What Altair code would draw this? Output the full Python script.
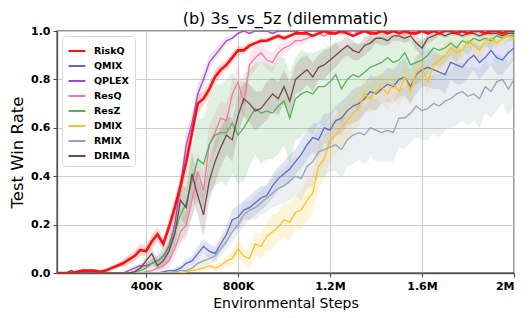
import altair as alt
import numpy as np
import pandas as pd

# ---------------- data ----------------
steps = list(range(0, 2000001, 25000))  # 81 sample steps

methods = ["RiskQ", "QMIX", "QPLEX", "ResQ", "ResZ", "DMIX", "RMIX", "DRIMA"]
colors = ["#ff1010", "#5d6cc4", "#a448c8", "#f07aa4", "#55b158", "#fbc12a", "#93a5b2", "#74474a"]

riskq = [0, 0, 0, 0, 0.005, 0.01, 0.01, 0.01, 0.005, 0.01,
         0.02, 0.03, 0.04, 0.055, 0.07, 0.095, 0.09, 0.13, 0.16, 0.12,
         0.19, 0.27, 0.36, 0.46, 0.58, 0.70, 0.72, 0.76, 0.81, 0.84,
         0.86, 0.89, 0.92, 0.92, 0.94, 0.95, 0.96, 0.96, 0.97, 0.98,
         0.97, 0.98, 0.99, 0.99, 0.99, 0.98, 0.99, 1.0, 0.99, 0.99,
         1.0, 0.99, 0.98, 0.99, 1.0, 0.99, 0.99, 1.0, 0.99, 1.0,
         0.99, 1.0, 0.99, 0.99, 1.0, 0.99, 1.0, 0.99, 1.0, 1.0,
         0.99, 1.0, 0.99, 1.0, 1.0, 0.99, 1.0, 1.0, 0.99, 1.0, 1.0]
qmix = [0, 0, 0, 0, 0, 0, 0, 0, 0, 0,
        0, 0, 0, 0, 0, 0, 0, 0, 0, 0.005,
        0.01, 0.01, 0.02, 0.04, 0.05, 0.08, 0.11, 0.09, 0.08, 0.12,
        0.16, 0.22, 0.23, 0.26, 0.27, 0.29, 0.31, 0.32, 0.36, 0.39,
        0.41, 0.43, 0.46, 0.49, 0.53, 0.56, 0.55, 0.60, 0.59, 0.63,
        0.64, 0.67, 0.69, 0.70, 0.72, 0.75, 0.74, 0.76, 0.78, 0.77,
        0.80, 0.81, 0.77, 0.82, 0.84, 0.85, 0.84, 0.83, 0.82, 0.87,
        0.86, 0.85, 0.88, 0.90, 0.87, 0.89, 0.92, 0.89, 0.88, 0.91, 0.93]
qplex = [0, 0, 0, 0, 0, 0, 0, 0, 0, 0,
         0, 0, 0, 0.01, 0.02, 0.03, 0.03, 0.04, 0.05, 0.07,
         0.11, 0.20, 0.36, 0.53, 0.62, 0.74, 0.80, 0.87, 0.90, 0.93,
         0.96, 0.97, 0.99, 1.0, 0.99, 1.0, 1.0, 1.0, 0.99, 1.0,
         1.0, 1.0, 1.0, 0.99, 1.0, 1.0, 1.0, 1.0, 1.0, 0.99,
         1.0, 1.0, 1.0, 1.0, 1.0, 1.0, 0.99, 1.0, 1.0, 1.0,
         1.0, 1.0, 1.0, 1.0, 1.0, 1.0, 1.0, 1.0, 1.0, 1.0,
         1.0, 1.0, 1.0, 1.0, 1.0, 1.0, 1.0, 1.0, 1.0, 1.0, 1.0]
resq = [0, 0, 0, 0, 0, 0, 0, 0, 0, 0,
        0, 0, 0, 0, 0, 0, 0.005, 0.01, 0.02, 0.03,
        0.05, 0.10, 0.17, 0.20, 0.30, 0.42, 0.34, 0.53, 0.58, 0.64,
        0.63, 0.74, 0.79, 0.70, 0.86, 0.89, 0.91, 0.88, 0.87, 0.91,
        0.93, 0.94, 0.96, 0.96, 0.97, 0.98, 0.99, 0.98, 0.99, 1.0,
        0.99, 0.99, 1.0, 0.99, 1.0, 0.99, 1.0, 1.0, 0.99, 1.0,
        1.0, 0.99, 1.0, 1.0, 1.0, 0.99, 1.0, 1.0, 1.0, 1.0,
        0.99, 1.0, 1.0, 1.0, 1.0, 1.0, 0.99, 1.0, 1.0, 1.0, 1.0]
resz = [0, 0, 0, 0, 0, 0, 0, 0, 0, 0,
        0, 0, 0, 0, 0.005, 0.01, 0.02, 0.04, 0.05, 0.07,
        0.10, 0.17, 0.24, 0.29, 0.38, 0.47, 0.45, 0.53, 0.57, 0.58,
        0.58, 0.62, 0.57, 0.60, 0.64, 0.68, 0.66, 0.67, 0.66, 0.69,
        0.71, 0.64, 0.72, 0.74, 0.75, 0.74, 0.77, 0.77, 0.79, 0.82,
        0.76, 0.80, 0.82, 0.81, 0.83, 0.85, 0.86, 0.87, 0.89, 0.87,
        0.88, 0.91, 0.86, 0.87, 0.88, 0.90, 0.93, 0.92, 0.93, 0.95,
        0.93, 0.96, 0.95, 0.97, 0.96, 0.97, 0.96, 0.98, 0.97, 0.98, 0.98]
dmix = [0, 0, 0, 0, 0, 0, 0, 0, 0, 0,
        0, 0, 0, 0, 0, 0, 0, 0, 0, 0,
        0, 0, 0, 0.005, 0.01, 0.015, 0.02, 0.03, 0.02, 0.03,
        0.05, 0.06, 0.10, 0.07, 0.06, 0.12, 0.11, 0.15, 0.17, 0.19,
        0.22, 0.21, 0.25, 0.26, 0.30, 0.33, 0.44, 0.47, 0.55, 0.57,
        0.60, 0.63, 0.66, 0.68, 0.74, 0.72, 0.75, 0.77, 0.74, 0.78,
        0.75, 0.81, 0.75, 0.83, 0.85, 0.79, 0.86, 0.88, 0.90, 0.93,
        0.91, 0.92, 0.96, 0.94, 0.92, 0.96, 0.97, 0.95, 0.97, 0.98, 0.97]
rmix = [0, 0, 0, 0, 0, 0, 0, 0, 0, 0,
        0, 0, 0, 0, 0, 0, 0, 0, 0, 0,
        0, 0.005, 0.01, 0.01, 0.02, 0.04, 0.05, 0.06, 0.07, 0.10,
        0.13, 0.17, 0.20, 0.24, 0.26, 0.27, 0.29, 0.31, 0.33, 0.35,
        0.36, 0.38, 0.40, 0.39, 0.44, 0.46, 0.50, 0.51, 0.52, 0.53,
        0.51, 0.55, 0.57, 0.58, 0.57, 0.60, 0.59, 0.58, 0.59, 0.58,
        0.64, 0.64, 0.66, 0.69, 0.67, 0.68, 0.70, 0.69, 0.71, 0.72,
        0.74, 0.75, 0.73, 0.74, 0.72, 0.77, 0.75, 0.79, 0.80, 0.76, 0.80]
drima = [0, 0, 0, 0.01, 0, 0, 0, 0, 0, 0,
         0, 0, 0, 0, 0.005, 0.02, 0.05, 0.08, 0.03, 0.05,
         0.09, 0.16, 0.30, 0.27, 0.41, 0.32, 0.24, 0.38, 0.46, 0.52,
         0.57, 0.55, 0.65, 0.72, 0.70, 0.67, 0.68, 0.71, 0.74, 0.72,
         0.77, 0.71, 0.80, 0.82, 0.84, 0.81, 0.85, 0.86, 0.88, 0.90,
         0.92, 0.94, 0.92, 0.91, 0.94, 0.95, 0.97, 0.97, 0.96, 0.98,
         0.98, 0.97, 0.98, 0.95, 0.93, 0.97, 0.98, 0.99, 0.98, 0.99,
         0.99, 0.98, 0.99, 0.99, 0.98, 0.99, 0.99, 0.99, 0.98, 0.99, 0.99]

# spread (half width of shaded band)
riskq_sd = [0, 0, 0, 0, 0.005, 0.005, 0.005, 0.005, 0.005, 0.01,
            0.01, 0.01, 0.015, 0.02, 0.02, 0.025, 0.02, 0.03, 0.03, 0.025,
            0.03, 0.04, 0.04, 0.05, 0.04, 0.04, 0.03, 0.03, 0.03, 0.025,
            0.02, 0.02, 0.02, 0.015, 0.015, 0.01, 0.01, 0.01, 0.01, 0.01,
            0.01, 0.01, 0.005, 0.005, 0.005, 0.005, 0.005, 0.005, 0.005, 0.005,
            0.005, 0.005, 0.005, 0.005, 0.005, 0.005, 0.005, 0.005, 0.005, 0.005,
            0.005, 0.005, 0.005, 0.005, 0.005, 0.005, 0.005, 0.005, 0.005, 0.005,
            0.005, 0.005, 0.005, 0.005, 0.005, 0.005, 0.005, 0.005, 0.005, 0.005, 0.005]
qmix_sd = [0, 0, 0, 0, 0, 0, 0, 0, 0, 0,
           0, 0, 0, 0, 0, 0, 0, 0, 0, 0.005,
           0.005, 0.01, 0.01, 0.02, 0.02, 0.03, 0.03, 0.03, 0.03, 0.03,
           0.04, 0.04, 0.05, 0.04, 0.05, 0.05, 0.05, 0.04, 0.05, 0.05,
           0.05, 0.06, 0.05, 0.06, 0.06, 0.06, 0.07, 0.06, 0.07, 0.06,
           0.07, 0.06, 0.07, 0.07, 0.06, 0.07, 0.07, 0.06, 0.07, 0.07,
           0.07, 0.08, 0.07, 0.08, 0.07, 0.08, 0.08, 0.07, 0.08, 0.07,
           0.08, 0.07, 0.07, 0.06, 0.07, 0.06, 0.06, 0.07, 0.06, 0.06, 0.05]
qplex_sd = [0, 0, 0, 0, 0, 0, 0, 0, 0, 0,
            0, 0, 0, 0.005, 0.01, 0.01, 0.01, 0.015, 0.02, 0.02,
            0.03, 0.04, 0.05, 0.05, 0.04, 0.04, 0.03, 0.03, 0.02, 0.02,
            0.015, 0.01, 0.005, 0.005, 0.005, 0.005, 0.005, 0.005, 0.005, 0.005,
            0.005, 0.005, 0.005, 0.005, 0.005, 0.005, 0.005, 0.005, 0.005, 0.005,
            0.005, 0.005, 0.005, 0.005, 0.005, 0.005, 0.005, 0.005, 0.005, 0.005,
            0.005, 0.005, 0.005, 0.005, 0.005, 0.005, 0.005, 0.005, 0.005, 0.005,
            0.005, 0.005, 0.005, 0.005, 0.005, 0.005, 0.005, 0.005, 0.005, 0.005, 0.005]
resq_sd = [0, 0, 0, 0, 0, 0, 0, 0, 0, 0,
           0, 0, 0, 0, 0, 0, 0.005, 0.01, 0.015, 0.02,
           0.03, 0.04, 0.05, 0.06, 0.07, 0.08, 0.07, 0.08, 0.08, 0.07,
           0.07, 0.06, 0.07, 0.06, 0.05, 0.05, 0.04, 0.04, 0.04, 0.03,
           0.03, 0.02, 0.02, 0.02, 0.015, 0.01, 0.01, 0.01, 0.01, 0.005,
           0.005, 0.005, 0.005, 0.005, 0.005, 0.005, 0.005, 0.005, 0.005, 0.005,
           0.005, 0.005, 0.005, 0.005, 0.005, 0.005, 0.005, 0.005, 0.005, 0.005,
           0.005, 0.005, 0.005, 0.005, 0.005, 0.005, 0.005, 0.005, 0.005, 0.005, 0.005]
resz_sd = [0, 0, 0, 0, 0, 0, 0, 0, 0, 0,
           0, 0, 0, 0, 0.005, 0.01, 0.015, 0.02, 0.03, 0.04,
           0.06, 0.08, 0.11, 0.13, 0.15, 0.17, 0.19, 0.2, 0.21, 0.2,
           0.22, 0.21, 0.2, 0.22, 0.2, 0.19, 0.21, 0.2, 0.19, 0.2,
           0.18, 0.19, 0.17, 0.18, 0.16, 0.17, 0.15, 0.16, 0.15, 0.14,
           0.15, 0.14, 0.13, 0.14, 0.12, 0.13, 0.11, 0.12, 0.1, 0.11,
           0.1, 0.09, 0.1, 0.09, 0.08, 0.08, 0.07, 0.07, 0.06, 0.05,
           0.06, 0.04, 0.05, 0.03, 0.04, 0.03, 0.04, 0.02, 0.03, 0.02, 0.02]
dmix_sd = [0, 0, 0, 0, 0, 0, 0, 0, 0, 0,
           0, 0, 0, 0, 0, 0, 0, 0, 0, 0,
           0, 0, 0, 0.005, 0.005, 0.01, 0.01, 0.015, 0.01, 0.015,
           0.02, 0.03, 0.04, 0.03, 0.04, 0.05, 0.05, 0.06, 0.07, 0.06,
           0.07, 0.08, 0.07, 0.08, 0.09, 0.08, 0.09, 0.08, 0.09, 0.08,
           0.08, 0.07, 0.08, 0.07, 0.07, 0.06, 0.07, 0.06, 0.07, 0.06,
           0.06, 0.07, 0.06, 0.05, 0.06, 0.05, 0.05, 0.04, 0.05, 0.04,
           0.04, 0.04, 0.03, 0.03, 0.04, 0.03, 0.03, 0.02, 0.03, 0.02, 0.02]
rmix_sd = [0, 0, 0, 0, 0, 0, 0, 0, 0, 0,
           0, 0, 0, 0, 0, 0, 0, 0, 0, 0,
           0, 0.005, 0.005, 0.01, 0.01, 0.015, 0.02, 0.02, 0.03, 0.03,
           0.03, 0.04, 0.04, 0.05, 0.04, 0.05, 0.05, 0.06, 0.06, 0.07,
           0.07, 0.08, 0.08, 0.09, 0.09, 0.1, 0.1, 0.11, 0.1, 0.11,
           0.12, 0.11, 0.12, 0.11, 0.12, 0.12, 0.13, 0.12, 0.13, 0.12,
           0.12, 0.13, 0.12, 0.13, 0.12, 0.13, 0.12, 0.13, 0.12, 0.12,
           0.13, 0.12, 0.12, 0.11, 0.12, 0.11, 0.11, 0.12, 0.1, 0.11, 0.1]
drima_sd = [0, 0, 0, 0.005, 0, 0, 0, 0, 0, 0,
            0, 0, 0, 0, 0.005, 0.01, 0.02, 0.03, 0.02, 0.03,
            0.04, 0.05, 0.07, 0.08, 0.09, 0.08, 0.09, 0.08, 0.09, 0.08,
            0.08, 0.09, 0.08, 0.07, 0.08, 0.08, 0.07, 0.08, 0.07, 0.07,
            0.07, 0.08, 0.06, 0.07, 0.06, 0.06, 0.05, 0.06, 0.05, 0.05,
            0.04, 0.04, 0.04, 0.03, 0.04, 0.03, 0.02, 0.03, 0.02, 0.02,
            0.02, 0.02, 0.02, 0.03, 0.03, 0.02, 0.02, 0.01, 0.01, 0.01,
            0.01, 0.01, 0.01, 0.01, 0.01, 0.01, 0.01, 0.01, 0.01, 0.01, 0.01]

series = {
    "RiskQ": (riskq, riskq_sd), "QMIX": (qmix, qmix_sd), "QPLEX": (qplex, qplex_sd),
    "ResQ": (resq, resq_sd), "ResZ": (resz, resz_sd), "DMIX": (dmix, dmix_sd),
    "RMIX": (rmix, rmix_sd), "DRIMA": (drima, drima_sd),
}

x_tick_values = [400000, 800000, 1200000, 1600000, 2000000]
x_tick_labels = ["400K", "800K", "1.2M", "1.6M", "2M"]
y_tick_values = [0.0, 0.2, 0.4, 0.6, 0.8, 1.0]

# draw order: RiskQ last so it sits on top
draw_order = methods[1:] + methods[:1]
rows = []
for m in draw_order:
    mean, sd = series[m]
    for s, v, d in zip(steps, mean, sd):
        rows.append({"step": s, "method": m, "mean": v,
                     "lo": max(0.0, v - d), "hi": min(1.0, v + d)})
df = pd.DataFrame(rows)

label_expr = "''"
for v, l in zip(reversed(x_tick_values), reversed(x_tick_labels)):
    label_expr = f"datum.value == {v} ? '{l}' : ({label_expr})"

FONT = "DejaVu Sans"

x_scale = alt.Scale(domain=[13000, 2000000], nice=False, zero=False)
y_scale = alt.Scale(domain=[0, 1], nice=False)
color_scale = alt.Scale(domain=methods, range=colors)
x_axis = alt.Axis(values=x_tick_values, labelExpr=label_expr, title="Environmental Steps")
y_axis = alt.Axis(values=y_tick_values, format=".1f", title="Test Win Rate")

base = alt.Chart(df)
bands = base.mark_area(opacity=0.18, clip=True).encode(
    x=alt.X("step:Q", scale=x_scale, axis=x_axis),
    y=alt.Y("lo:Q", scale=y_scale, axis=y_axis), y2="hi:Q",
    color=alt.Color("method:N", scale=color_scale, legend=None),
)
lines = base.mark_line(clip=True).encode(
    x=alt.X("step:Q", scale=x_scale, axis=x_axis),
    y=alt.Y("mean:Q", scale=y_scale, axis=y_axis),
    color=alt.Color("method:N", scale=color_scale,
                    legend=alt.Legend(orient="top-left", title=None, symbolType="stroke")),
    strokeWidth=alt.condition(alt.datum.method == "RiskQ", alt.value(2.6), alt.value(1.3)),
)

chart = alt.layer(bands, lines).resolve_scale(color="independent").resolve_legend(
    color="independent"
).properties(
    width=457, height=242,
    title=alt.Title("(b) 3s_vs_5z (dilemmatic)", font=FONT, fontSize=16, fontWeight="normal",
                    color="black", offset=-2),
    autosize=alt.AutoSizeParams(type="none"),
    padding={"left": 49, "top": 23, "right": 9, "bottom": 37},
).configure_axis(
    labelFont=FONT, labelFontWeight="bold", labelFontSize=11, labelColor="black",
    titleFont=FONT, titleFontWeight="normal", titleColor="black",
    tickColor="#444", tickSize=4, domainColor="#555", domainWidth=1.3,
    gridColor="#cccccc", gridWidth=1,
).configure_axisX(
    titleFontSize=14, titlePadding=5, labelPadding=3,
).configure_axisY(
    titleFontSize=16.5, titlePadding=5, labelPadding=3,
).configure_legend(
    symbolSize=290, symbolStrokeWidth=2,
    labelFont=FONT, labelFontWeight="bold", labelFontSize=9.5,
    labelColor="black", labelOffset=7,
    fillColor="white", strokeColor="#d8d8d8",
    padding=5, cornerRadius=3, rowPadding=-1, offset=5,
).configure_view(
    stroke="#222", strokeWidth=1.3,
)

chart.save("out.html", embed_options={"renderer": "svg", "actions": False})
